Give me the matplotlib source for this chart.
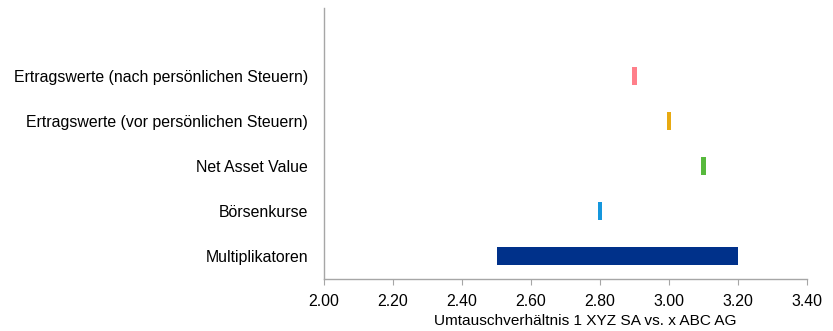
import matplotlib
matplotlib.use("Agg")
import matplotlib.pyplot as plt

plt.rcParams['font.family'] = ['Liberation Sans', 'DejaVu Sans']

# Valuation methods (bottom to top) and exchange-ratio ranges
categories = [
    "Multiplikatoren",
    "Börsenkurse",
    "Net Asset Value",
    "Ertragswerte (vor persönlichen Steuern)",
    "Ertragswerte (nach persönlichen Steuern)",
]
range_low = [2.50, 2.80, 3.10, 3.00, 2.90]
range_high = [3.20, 2.80, 3.10, 3.00, 2.90]
colors = ["#00318A", "#1597DD", "#57B93C", "#E8AA12", "#FF7F8A"]

x_ticks = [2.00, 2.20, 2.40, 2.60, 2.80, 3.00, 3.20, 3.40]
x_label = "Umtauschverhältnis 1 XYZ SA vs. x ABC AG"

MIN_WIDTH = 0.012  # single-value methods shown as thin markers
FS = 11.4

fig = plt.figure(figsize=(8.33, 3.31), dpi=100)
ax = fig.add_axes([324 / 833, 1 - 279 / 331, (807 - 324) / 833, (279 - 8) / 331])

for i, (lo, hi, c) in enumerate(zip(range_low, range_high, colors)):
    width = hi - lo
    if width < MIN_WIDTH:
        left = (lo + hi) / 2 - MIN_WIDTH / 2
        width = MIN_WIDTH
    else:
        left = lo
    ax.barh(i, width, left=left, height=0.4, color=c, edgecolor="none")

ax.set_xlim(2.00, 3.40)
ax.set_ylim(-0.5, 5.5)
ax.set_xticks(x_ticks)
ax.set_xticklabels([f"{t:.2f}" for t in x_ticks], fontsize=FS)
ax.set_yticks(range(len(categories)))
ax.set_yticklabels(categories, fontsize=FS)
ax.set_xlabel(x_label, fontsize=FS - 0.3)
ax.xaxis.set_label_coords(0.54, -0.13)
ax.xaxis.label.set_verticalalignment("top")

for side in ("top", "right"):
    ax.spines[side].set_visible(False)
for side in ("left", "bottom"):
    ax.spines[side].set_color("#A6A6A6")
    ax.spines[side].set_linewidth(1.0)

ax.tick_params(axis="x", direction="out", length=4, color="#A6A6A6", pad=7, labelcolor="black")
ax.tick_params(axis="y", length=0, pad=11.5, labelcolor="black")

fig.savefig("out.png", dpi=100)
